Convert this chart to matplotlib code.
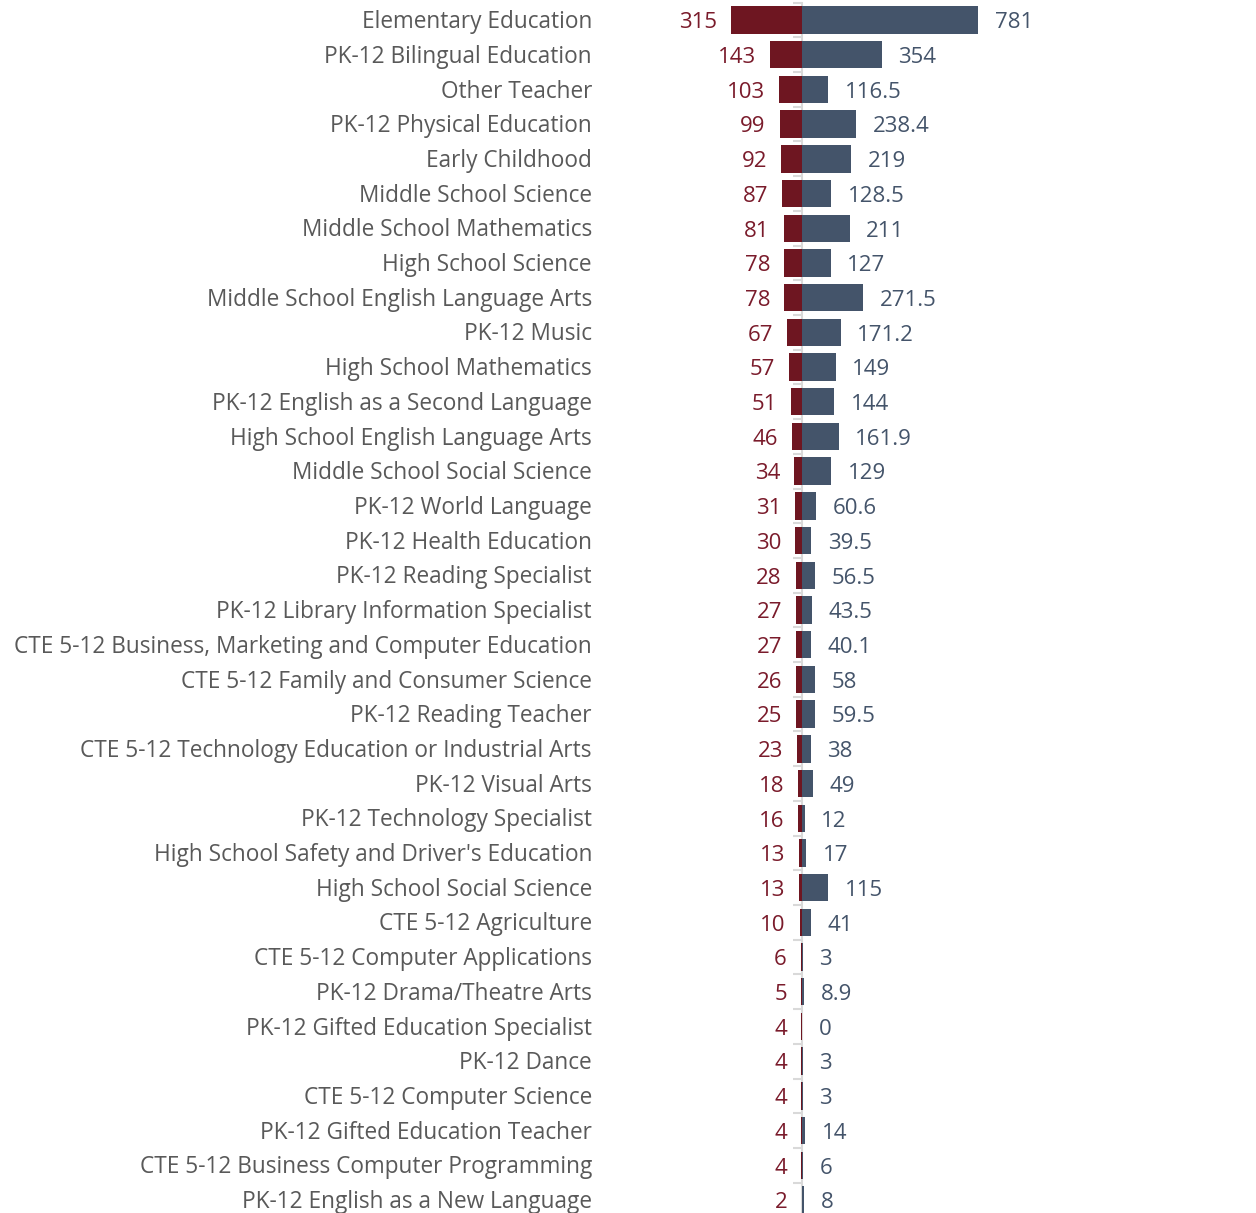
import matplotlib.pyplot as plt
import matplotlib.transforms as mtransforms
import numpy as np

plt.rcParams['font.family'] = ['Open Sans', 'DejaVu Sans']

categories = ["Elementary Education",
              "PK-12 Bilingual Education",
              "Other Teacher",
              "PK-12 Physical Education",
              "Early Childhood",
              "Middle School Science",
              "Middle School Mathematics",
              "High School Science",
              "Middle School English Language Arts",
              "PK-12 Music",
              "High School Mathematics",
              "PK-12 English as a Second Language",
              "High School English Language Arts",
              "Middle School Social Science",
              "PK-12 World Language",
              "PK-12 Health Education",
              "PK-12 Reading Specialist",
              "PK-12 Library Information Specialist",
              "CTE 5-12 Business, Marketing and Computer Education",
              "CTE 5-12 Family and Consumer Science",
              "PK-12 Reading Teacher",
              "CTE 5-12 Technology Education or Industrial Arts",
              "PK-12 Visual Arts",
              "PK-12 Technology Specialist",
              "High School Safety and Driver's Education",
              "High School Social Science",
              "CTE 5-12 Agriculture",
              "CTE 5-12 Computer Applications",
              "PK-12 Drama/Theatre Arts",
              "PK-12 Gifted Education Specialist",
              "PK-12 Dance",
              "CTE 5-12 Computer Science",
              "PK-12 Gifted Education Teacher",
              "CTE 5-12 Business Computer Programming",
              "PK-12 English as a New Language"]
leftValues = [315, 143, 103, 99, 92, 87, 81, 78, 78, 67, 57, 51, 46, 34, 31, 30, 28,
              27, 27, 26, 25, 23, 18, 16, 13, 13, 10, 6, 5, 4, 4, 4, 4, 4, 2]
rightValues = [781, 354, 116.5, 238.4, 219, 128.5, 211, 127, 271.5, 171.2, 149, 144,
               161.9, 129, 60.6, 39.5, 56.5, 43.5, 40.1, 58, 59.5, 38, 49, 12, 17, 115,
               41, 3, 8.9, 0, 3, 3, 14, 6, 8]

redBar = '#6e1621'
redText = '#7a1b2b'
blueBar = '#44546a'
blueText = '#44546a'
gridGrey = '#d9d9d9'
labelGrey = '#595959'

fig = plt.figure(figsize=(12.56, 12.13), dpi=100)
ax = fig.add_axes([620 / 1256, -0.0036, 636 / 1256, 1.0014])

y = np.arange(len(categories))
ax.barh(y, -np.array(leftValues), height=0.79, color=redBar, linewidth=0)
ax.barh(y, rightValues, height=0.79, color=blueBar, linewidth=0)

ax.set_xlim(-807, 2013)
ax.set_ylim(len(categories) - 0.5, -0.5)

# centre axis with small ticks between the rows
for side in ['top', 'right', 'bottom']:
    ax.spines[side].set_visible(False)
ax.spines['left'].set_position(('data', 0))
ax.spines['left'].set_color(gridGrey)
ax.spines['left'].set_linewidth(1.5)
ax.spines['left'].set_zorder(0)
ax.set_xticks([])
ax.set_yticks([])
ax.set_yticks(np.arange(len(categories) + 1) - 0.5, minor=True)
ax.tick_params(axis='y', which='minor', length=6.5, width=1.5, color=gridGrey,
               direction='out', labelleft=False)

labelTrans = mtransforms.blended_transform_factory(fig.transFigure, ax.transData)
labelTrans = mtransforms.offset_copy(labelTrans, fig=fig, x=0, y=-1.5, units='points')
for i, name in enumerate(categories):
    ax.text(592 / 1256, i, name, transform=labelTrans, ha='right', va='center',
            fontsize=16.3, color=labelGrey)

for i, v in enumerate(leftValues):
    ax.annotate(f'{v:g}', xy=(-v, i), xytext=(-10, -2), textcoords='offset points',
                ha='right', va='center', fontsize=16, color=redText)

for i, v in enumerate(rightValues):
    ax.annotate(f'{v:g}', xy=(v, i), xytext=(12, -2), textcoords='offset points',
                ha='left', va='center', fontsize=16, color=blueText)

fig.savefig('out.png', dpi=100)
